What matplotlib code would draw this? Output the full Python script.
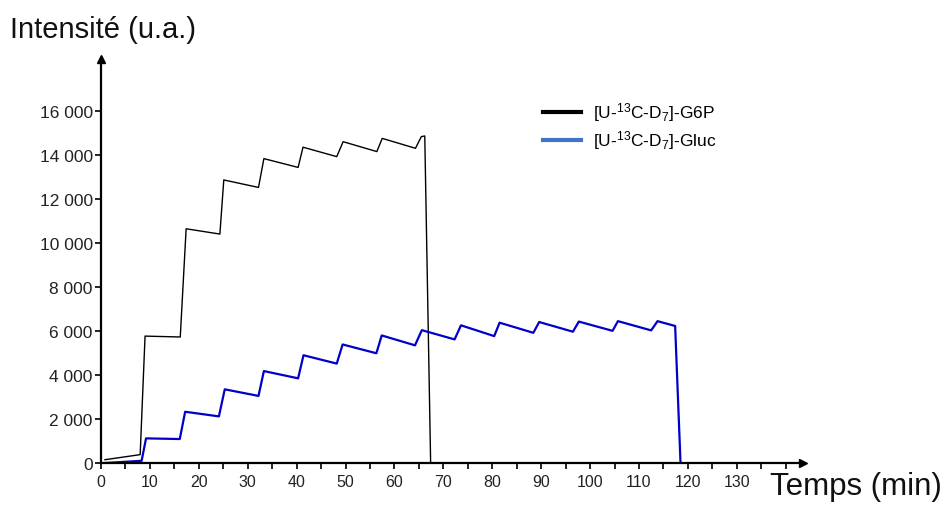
import numpy as np
import matplotlib
matplotlib.use("Agg")
import matplotlib.pyplot as plt
from matplotlib.lines import Line2D
from matplotlib.ticker import FuncFormatter, MultipleLocator

plt.rcParams['font.family'] = ['Liberation Sans', 'DejaVu Sans']
plt.rcParams['mathtext.default'] = 'regular'

# G6P trace (black)
t_g6p = [0.8, 8.0, 9.0, 16.2, 17.4, 24.3, 25.1, 32.2, 33.3, 40.3, 41.3, 48.2,
         49.5, 56.4, 57.5, 64.3, 65.5, 66.2, 67.4]
y_g6p = [150, 380, 5770, 5730, 10650, 10410, 12870, 12530, 13840, 13440, 14360, 13930,
         14610, 14160, 14760, 14310, 14840, 14870, 0]

# Gluc trace (blue)
t_gluc = [0.8, 8.3, 9.2, 16.1, 17.2, 24.1, 25.3, 32.2, 33.3, 40.3, 41.4, 48.2,
          49.4, 56.3, 57.4, 64.2, 65.6, 72.3, 73.6, 80.4, 81.5, 88.4, 89.6, 96.5,
          97.7, 104.6, 105.7, 112.5, 113.8, 117.4, 118.5]
y_gluc = [0, 100, 1120, 1090, 2330, 2120, 3350, 3050, 4180, 3850, 4900, 4520,
          5390, 4990, 5800, 5350, 6040, 5620, 6260, 5770, 6380, 5920, 6410, 5970,
          6430, 6010, 6450, 6030, 6450, 6230, 0]

labels = [r'[U-$^{13}$C-D$_{7}$]-G6P', r'[U-$^{13}$C-D$_{7}$]-Gluc']

fig = plt.figure(figsize=(9.47, 5.06), dpi=100)
ax = fig.add_axes([0.1067, 0.083, 0.741, 0.798])

ax.plot(t_g6p, y_g6p, color='black', lw=1.0)
ax.plot(t_gluc, y_gluc, color='#0000c8', lw=1.6)

for s in ['top', 'right']:
    ax.spines[s].set_visible(False)
for s in ['left', 'bottom']:
    ax.spines[s].set_linewidth(1.6)

# arrow heads at axis ends
ax.plot(1, 0, '>k', ms=6, transform=ax.get_yaxis_transform(), clip_on=False)
ax.plot(0, 1, '^k', ms=6, transform=ax.get_xaxis_transform(), clip_on=False)

ax.set_xticks(np.arange(0, 131, 10))
ax.xaxis.set_minor_locator(MultipleLocator(5))
ax.set_yticks(np.arange(0, 16001, 2000))
ax.yaxis.set_major_formatter(FuncFormatter(lambda v, p: f'{int(v):,}'.replace(',', ' ')))
ax.tick_params(axis='x', which='both', direction='out', length=4, width=1.4,
               labelsize=11.5, pad=4, colors='#222222')
ax.tick_params(axis='y', direction='out', length=4, width=1.4, labelsize=12.5,
               pad=2, colors='#222222')
ax.set_xlim(0, 143.5)
ax.set_ylim(0, 18360)

fig.text(0.011, 0.925, 'Intensité (u.a.)', fontsize=21, color='#111111')
fig.text(0.813, 0.022, 'Temps (min)', fontsize=22.5, color='#111111')

handles = [Line2D([], [], color='black', lw=3),
           Line2D([], [], color='#4472c4', lw=3)]
ax.legend(handles, labels, loc='upper left', bbox_to_anchor=(0.62, 0.915),
          frameon=False, fontsize=12.5, handlelength=2.2, handletextpad=0.7,
          labelspacing=0.3, borderaxespad=0)

fig.savefig('out.png', dpi=100)
